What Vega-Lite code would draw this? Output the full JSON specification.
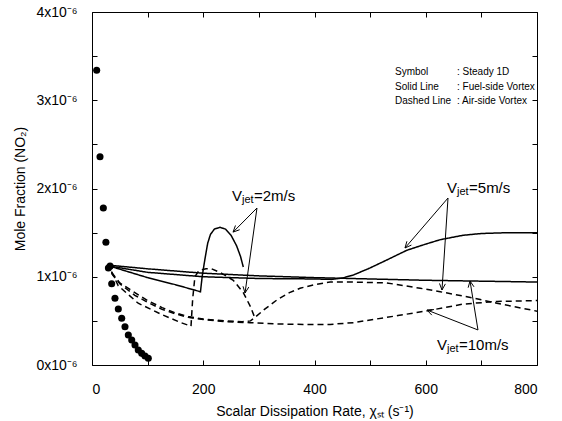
{
  "$schema": "https://vega.github.io/schema/vega-lite/v6.json",
  "width": 445,
  "height": 353,
  "autosize": {"type": "none"},
  "padding": {"left": 92, "top": 12, "right": 25, "bottom": 56},
  "config": {
    "view": {"stroke": null},
    "font": "Liberation Sans",
    "axis": {"domainColor": "black", "tickColor": "black", "labelColor": "black", "titleColor": "black", "grid": false, "labelFont": "Liberation Sans", "titleFont": "Liberation Sans", "titleFontWeight": "normal"}
  },
  "datasets": {
    "lines": [
      {"s": "v2s", "t": "solid", "x": 32, "y": 1.12}, {"s": "v2s", "t": "solid", "x": 100, "y": 0.99}, {"s": "v2s", "t": "solid", "x": 150, "y": 0.91}, {"s": "v2s", "t": "solid", "x": 195, "y": 0.83}, {"s": "v2s", "t": "solid", "x": 198, "y": 1.0}, {"s": "v2s", "t": "solid", "x": 203, "y": 1.2}, {"s": "v2s", "t": "solid", "x": 208, "y": 1.38}, {"s": "v2s", "t": "solid", "x": 213, "y": 1.48}, {"s": "v2s", "t": "solid", "x": 220, "y": 1.54}, {"s": "v2s", "t": "solid", "x": 230, "y": 1.56}, {"s": "v2s", "t": "solid", "x": 240, "y": 1.54}, {"s": "v2s", "t": "solid", "x": 250, "y": 1.47}, {"s": "v2s", "t": "solid", "x": 260, "y": 1.35}, {"s": "v2s", "t": "solid", "x": 267, "y": 1.23}, {"s": "v2s", "t": "solid", "x": 272, "y": 1.11},
      {"s": "v5s", "t": "solid", "x": 32, "y": 1.12}, {"s": "v5s", "t": "solid", "x": 100, "y": 1.05}, {"s": "v5s", "t": "solid", "x": 200, "y": 1.0}, {"s": "v5s", "t": "solid", "x": 300, "y": 0.98}, {"s": "v5s", "t": "solid", "x": 400, "y": 0.975}, {"s": "v5s", "t": "solid", "x": 430, "y": 0.97}, {"s": "v5s", "t": "solid", "x": 450, "y": 0.985}, {"s": "v5s", "t": "solid", "x": 470, "y": 1.02}, {"s": "v5s", "t": "solid", "x": 500, "y": 1.1}, {"s": "v5s", "t": "solid", "x": 530, "y": 1.19}, {"s": "v5s", "t": "solid", "x": 566, "y": 1.3}, {"s": "v5s", "t": "solid", "x": 600, "y": 1.37}, {"s": "v5s", "t": "solid", "x": 626, "y": 1.42}, {"s": "v5s", "t": "solid", "x": 667, "y": 1.47}, {"s": "v5s", "t": "solid", "x": 700, "y": 1.49}, {"s": "v5s", "t": "solid", "x": 750, "y": 1.5}, {"s": "v5s", "t": "solid", "x": 800, "y": 1.5},
      {"s": "v10s", "t": "solid", "x": 32, "y": 1.13}, {"s": "v10s", "t": "solid", "x": 100, "y": 1.09}, {"s": "v10s", "t": "solid", "x": 200, "y": 1.04}, {"s": "v10s", "t": "solid", "x": 300, "y": 1.01}, {"s": "v10s", "t": "solid", "x": 400, "y": 0.99}, {"s": "v10s", "t": "solid", "x": 500, "y": 0.975}, {"s": "v10s", "t": "solid", "x": 600, "y": 0.96}, {"s": "v10s", "t": "solid", "x": 700, "y": 0.95}, {"s": "v10s", "t": "solid", "x": 800, "y": 0.94},
      {"s": "v2d", "t": "dashed", "x": 35, "y": 1.06}, {"s": "v2d", "t": "dashed", "x": 47, "y": 0.9}, {"s": "v2d", "t": "dashed", "x": 83, "y": 0.7}, {"s": "v2d", "t": "dashed", "x": 126, "y": 0.57}, {"s": "v2d", "t": "dashed", "x": 160, "y": 0.48}, {"s": "v2d", "t": "dashed", "x": 178, "y": 0.44}, {"s": "v2d", "t": "dashed", "x": 181, "y": 0.75}, {"s": "v2d", "t": "dashed", "x": 185, "y": 1.0}, {"s": "v2d", "t": "dashed", "x": 192, "y": 1.07}, {"s": "v2d", "t": "dashed", "x": 205, "y": 1.09}, {"s": "v2d", "t": "dashed", "x": 215, "y": 1.09}, {"s": "v2d", "t": "dashed", "x": 230, "y": 1.05}, {"s": "v2d", "t": "dashed", "x": 254, "y": 0.96}, {"s": "v2d", "t": "dashed", "x": 272, "y": 0.82}, {"s": "v2d", "t": "dashed", "x": 285, "y": 0.66}, {"s": "v2d", "t": "dashed", "x": 293, "y": 0.53},
      {"s": "v5d", "t": "dashed", "x": 35, "y": 1.05}, {"s": "v5d", "t": "dashed", "x": 50, "y": 0.93}, {"s": "v5d", "t": "dashed", "x": 77, "y": 0.82}, {"s": "v5d", "t": "dashed", "x": 100, "y": 0.73}, {"s": "v5d", "t": "dashed", "x": 126, "y": 0.65}, {"s": "v5d", "t": "dashed", "x": 150, "y": 0.59}, {"s": "v5d", "t": "dashed", "x": 173, "y": 0.55}, {"s": "v5d", "t": "dashed", "x": 200, "y": 0.52}, {"s": "v5d", "t": "dashed", "x": 239, "y": 0.5}, {"s": "v5d", "t": "dashed", "x": 270, "y": 0.49}, {"s": "v5d", "t": "dashed", "x": 285, "y": 0.5}, {"s": "v5d", "t": "dashed", "x": 295, "y": 0.55}, {"s": "v5d", "t": "dashed", "x": 310, "y": 0.63}, {"s": "v5d", "t": "dashed", "x": 333, "y": 0.74}, {"s": "v5d", "t": "dashed", "x": 355, "y": 0.82}, {"s": "v5d", "t": "dashed", "x": 374, "y": 0.87}, {"s": "v5d", "t": "dashed", "x": 400, "y": 0.91}, {"s": "v5d", "t": "dashed", "x": 428, "y": 0.94}, {"s": "v5d", "t": "dashed", "x": 469, "y": 0.94}, {"s": "v5d", "t": "dashed", "x": 530, "y": 0.93}, {"s": "v5d", "t": "dashed", "x": 590, "y": 0.87}, {"s": "v5d", "t": "dashed", "x": 626, "y": 0.83}, {"s": "v5d", "t": "dashed", "x": 685, "y": 0.76}, {"s": "v5d", "t": "dashed", "x": 728, "y": 0.7}, {"s": "v5d", "t": "dashed", "x": 760, "y": 0.66}, {"s": "v5d", "t": "dashed", "x": 800, "y": 0.61},
      {"s": "v10d", "t": "dashed", "x": 35, "y": 1.04}, {"s": "v10d", "t": "dashed", "x": 50, "y": 0.92}, {"s": "v10d", "t": "dashed", "x": 77, "y": 0.79}, {"s": "v10d", "t": "dashed", "x": 100, "y": 0.71}, {"s": "v10d", "t": "dashed", "x": 126, "y": 0.63}, {"s": "v10d", "t": "dashed", "x": 150, "y": 0.58}, {"s": "v10d", "t": "dashed", "x": 173, "y": 0.54}, {"s": "v10d", "t": "dashed", "x": 200, "y": 0.515}, {"s": "v10d", "t": "dashed", "x": 239, "y": 0.49}, {"s": "v10d", "t": "dashed", "x": 284, "y": 0.48}, {"s": "v10d", "t": "dashed", "x": 330, "y": 0.465}, {"s": "v10d", "t": "dashed", "x": 380, "y": 0.46}, {"s": "v10d", "t": "dashed", "x": 428, "y": 0.46}, {"s": "v10d", "t": "dashed", "x": 470, "y": 0.48}, {"s": "v10d", "t": "dashed", "x": 500, "y": 0.51}, {"s": "v10d", "t": "dashed", "x": 550, "y": 0.56}, {"s": "v10d", "t": "dashed", "x": 608, "y": 0.62}, {"s": "v10d", "t": "dashed", "x": 667, "y": 0.69}, {"s": "v10d", "t": "dashed", "x": 728, "y": 0.72}, {"s": "v10d", "t": "dashed", "x": 800, "y": 0.73}
    ],
    "steady": [
      {"x": 8.4, "y": 3.34}, {"x": 14.4, "y": 2.36}, {"x": 20.4, "y": 1.78}, {"x": 25, "y": 1.39}, {"x": 29.5, "y": 1.1}, {"x": 32.5, "y": 1.12}, {"x": 35.4, "y": 0.92}, {"x": 41.3, "y": 0.756}, {"x": 47.3, "y": 0.635}, {"x": 53.4, "y": 0.529}, {"x": 59.3, "y": 0.434}, {"x": 65.3, "y": 0.34}, {"x": 71.4, "y": 0.283}, {"x": 77.3, "y": 0.227}, {"x": 83.2, "y": 0.17}, {"x": 89.3, "y": 0.132}, {"x": 95.3, "y": 0.102}, {"x": 101.2, "y": 0.076}
    ],
    "arrows": [
      {"a": "v2a", "k": 0, "x": 296.6, "y": 1.779}, {"a": "v2a", "k": 1, "x": 253.6, "y": 1.506},
      {"a": "v2ah", "k": 0, "x": 265.5, "y": 1.533}, {"a": "v2ah", "k": 1, "x": 253.6, "y": 1.506}, {"a": "v2ah", "k": 2, "x": 257.9, "y": 1.581},
      {"a": "v2b", "k": 0, "x": 296.6, "y": 1.779}, {"a": "v2b", "k": 1, "x": 275.1, "y": 0.816},
      {"a": "v2bh", "k": 0, "x": 281.9, "y": 0.883}, {"a": "v2bh", "k": 1, "x": 275.1, "y": 0.816}, {"a": "v2bh", "k": 2, "x": 271.5, "y": 0.892},
      {"a": "v5a", "k": 0, "x": 640.0, "y": 1.892}, {"a": "v5a", "k": 1, "x": 562.7, "y": 1.326},
      {"a": "v5ah", "k": 0, "x": 574.2, "y": 1.359}, {"a": "v5ah", "k": 1, "x": 562.7, "y": 1.326}, {"a": "v5ah", "k": 2, "x": 566.1, "y": 1.402},
      {"a": "v5b", "k": 0, "x": 640.0, "y": 1.892}, {"a": "v5b", "k": 1, "x": 629.2, "y": 0.85},
      {"a": "v5bh", "k": 0, "x": 635.3, "y": 0.919}, {"a": "v5bh", "k": 1, "x": 629.2, "y": 0.85}, {"a": "v5bh", "k": 2, "x": 624.7, "y": 0.924},
      {"a": "v10a", "k": 0, "x": 693.9, "y": 0.397}, {"a": "v10a", "k": 1, "x": 679.6, "y": 0.952},
      {"a": "v10ah", "k": 0, "x": 676.2, "y": 0.876}, {"a": "v10ah", "k": 1, "x": 679.6, "y": 0.952}, {"a": "v10ah", "k": 2, "x": 686.7, "y": 0.886},
      {"a": "v10b", "k": 0, "x": 693.9, "y": 0.397}, {"a": "v10b", "k": 1, "x": 602.2, "y": 0.623},
      {"a": "v10bh", "k": 0, "x": 610.9, "y": 0.565}, {"a": "v10bh", "k": 1, "x": 602.2, "y": 0.623}, {"a": "v10bh", "k": 2, "x": 614.8, "y": 0.628}
    ],
    "legend": [
      {"x": 544.7, "y": 3.32, "text": "Symbol"}, {"x": 656.2, "y": 3.32, "text": ": Steady 1D"},
      {"x": 544.7, "y": 3.15, "text": "Solid Line"}, {"x": 656.2, "y": 3.15, "text": ": Fuel-side Vortex"},
      {"x": 544.7, "y": 2.99, "text": "Dashed Line"}, {"x": 656.2, "y": 2.99, "text": ": Air-side Vortex"}
    ],
    "vmain": [
      {"x": 251.7, "y": 1.915, "text": "V"}, {"x": 291.2, "y": 1.915, "text": "=2m/s"},
      {"x": 638.2, "y": 2.006, "text": "V"}, {"x": 677.8, "y": 2.006, "text": "=5m/s"},
      {"x": 620.2, "y": 0.227, "text": "V"}, {"x": 659.8, "y": 0.227, "text": "=10m/s"}
    ],
    "vsub": [
      {"x": 269.7, "y": 1.87, "text": "jet"},
      {"x": 656.2, "y": 1.96, "text": "jet"},
      {"x": 638.2, "y": 0.181, "text": "jet"}
    ]
  },
  "layer": [
    {
      "data": {"name": "lines"},
      "mark": {"type": "line", "strokeWidth": 1.5, "color": "black"},
      "encoding": {
        "x": {"field": "x", "type": "quantitative", "scale": {"domain": [0, 800], "nice": false},
          "axis": {"orient": "bottom", "values": [0, 100, 200, 300, 400, 500, 600, 700, 800], "labelExpr": "datum.value % 200 === 0 ? datum.label : ''", "tickSize": -5, "labelPadding": 22, "labelFontSize": 14, "title": "Scalar Dissipation Rate, χₛₜ (s⁻¹)", "titleFontSize": 14, "titlePadding": 8}},
        "y": {"field": "y", "type": "quantitative", "scale": {"domain": [0, 4], "nice": false},
          "axis": {"orient": "left", "values": [0, 0.5, 1, 1.5, 2, 2.5, 3, 3.5, 4], "labelExpr": "datum.value % 1 === 0 ? datum.value + 'x10⁻⁶' : ''", "tickSize": -5, "labelPadding": 20, "labelFontSize": 14, "title": "Mole Fraction (NO₂)", "titleFontSize": 14, "titlePadding": 8}},
        "detail": {"field": "s"},
        "strokeDash": {"field": "t", "type": "nominal", "scale": {"domain": ["solid", "dashed"], "range": [[1, 0], [6, 4]]}, "legend": null}
      }
    },
    {
      "data": {"name": "steady"},
      "mark": {"type": "circle", "size": 50, "color": "black", "opacity": 1},
      "encoding": {
        "x": {"field": "x", "type": "quantitative", "axis": {"orient": "top", "values": [0, 100, 200, 300, 400, 500, 600, 700, 800], "labels": false, "tickSize": -5, "title": null}},
        "y": {"field": "y", "type": "quantitative", "axis": {"orient": "right", "values": [0, 0.5, 1, 1.5, 2, 2.5, 3, 3.5, 4], "labels": false, "tickSize": -5, "title": null}}
      }
    },
    {
      "data": {"name": "arrows"},
      "mark": {"type": "line", "strokeWidth": 1, "color": "black"},
      "encoding": {
        "x": {"field": "x", "type": "quantitative", "axis": null},
        "y": {"field": "y", "type": "quantitative", "axis": null},
        "detail": {"field": "a"},
        "order": {"field": "k"}
      }
    },
    {
      "data": {"name": "legend"},
      "mark": {"type": "text", "align": "left", "baseline": "middle", "fontSize": 10},
      "encoding": {
        "x": {"field": "x", "type": "quantitative", "axis": null},
        "y": {"field": "y", "type": "quantitative", "axis": null},
        "text": {"field": "text"}
      }
    },
    {
      "data": {"name": "vmain"},
      "mark": {"type": "text", "align": "left", "baseline": "middle", "fontSize": 15},
      "encoding": {
        "x": {"field": "x", "type": "quantitative", "axis": null},
        "y": {"field": "y", "type": "quantitative", "axis": null},
        "text": {"field": "text"}
      }
    },
    {
      "data": {"name": "vsub"},
      "mark": {"type": "text", "align": "left", "baseline": "middle", "fontSize": 11},
      "encoding": {
        "x": {"field": "x", "type": "quantitative", "axis": null},
        "y": {"field": "y", "type": "quantitative", "axis": null},
        "text": {"field": "text"}
      }
    }
  ],
  "resolve": {"axis": {"x": "independent", "y": "independent"}}
}
